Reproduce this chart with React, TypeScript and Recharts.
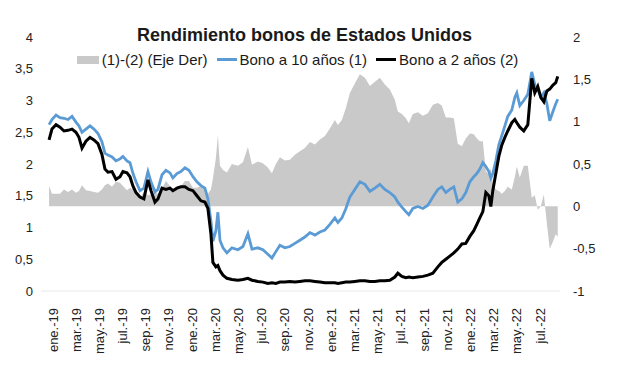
import React from "react";
import { ComposedChart, Area, Line, XAxis, YAxis } from "recharts";

// meses desde ene.-19 (0 = ene.-19)
const meses = [
  -0.34, -0.09, 0.26, 0.6, 0.95, 1.29, 1.64, 1.98, 2.24, 2.5, 2.84, 3.19, 3.53, 3.88, 4.22, 4.48, 4.74,
  5.09, 5.43, 5.78, 6.03, 6.38, 6.64, 6.9, 7.16, 7.5, 7.84, 8.19, 8.45, 8.79, 9.05, 9.4, 9.74, 10.09,
  10.34, 10.69, 11.03, 11.38, 11.72, 12.07, 12.41, 12.76, 13.1, 13.36, 13.62, 13.79, 14.05, 14.22,
  14.4, 14.66, 15.0, 15.43, 15.95, 16.38, 16.81, 17.16, 17.67, 18.1, 18.53, 18.88, 19.22, 19.57, 20.0,
  20.43, 20.86, 21.29, 21.72, 22.16, 22.59, 23.02, 23.45, 23.88, 24.31, 24.57, 24.91, 25.26, 25.6,
  26.03, 26.47, 26.9, 27.33, 27.76, 28.19, 28.62, 29.05, 29.48, 29.74, 30.09, 30.43, 30.69, 31.03,
  31.47, 31.9, 32.33, 32.76, 33.19, 33.53, 33.88, 34.22, 34.57, 34.91, 35.26, 35.6, 35.95, 36.29,
  36.55, 36.81, 37.07, 37.33, 37.59, 37.76, 37.93, 38.19, 38.45, 38.71, 38.97, 39.22, 39.57, 39.83,
  40.0, 40.26, 40.6, 40.95, 41.29, 41.55, 41.81, 42.07, 42.33, 42.59, 42.84, 43.1, 43.36, 43.53,
];

const bono10 = [
  2.62, 2.7, 2.77, 2.73, 2.72, 2.7, 2.75, 2.66, 2.6, 2.5, 2.55, 2.6, 2.55, 2.48, 2.35, 2.17, 2.14,
  2.11, 2.05, 2.08, 2.12, 2.05, 2.02, 1.85, 1.72, 1.58, 1.62, 1.88, 1.72, 1.56, 1.6, 1.83, 1.9, 1.86,
  1.78, 1.85, 1.88, 1.94, 1.9, 1.8, 1.72, 1.66, 1.62, 1.45, 1.1, 0.78, 0.95, 1.24,
  0.8, 0.68, 0.6, 0.68, 0.65, 0.7, 0.9, 0.66, 0.68, 0.65, 0.58, 0.52, 0.62, 0.72, 0.68,
  0.7, 0.75, 0.8, 0.85, 0.92, 0.88, 0.93, 0.96, 1.05, 1.15, 1.08, 1.15, 1.3, 1.48,
  1.6, 1.72, 1.68, 1.57, 1.62, 1.68, 1.6, 1.55, 1.48, 1.4, 1.32, 1.25, 1.2, 1.3,
  1.33, 1.3, 1.35, 1.48, 1.6, 1.64, 1.55, 1.6, 1.64, 1.4, 1.45, 1.55, 1.72, 1.8,
  1.85, 1.92, 2.02, 1.96, 1.88, 1.78, 1.85, 2.05, 2.3, 2.45, 2.6, 2.75, 2.85, 3.05,
  3.12, 2.92, 3.0, 3.1, 3.45, 3.25, 3.18, 3.05, 3.12, 2.95, 2.68, 2.82, 2.95, 3.02,
];

const bono2 = [
  2.38, 2.55, 2.62, 2.58, 2.52, 2.53, 2.55, 2.5, 2.42, 2.25, 2.36, 2.42, 2.38, 2.32, 2.15, 1.92, 1.87,
  1.88, 1.76, 1.8, 1.88, 1.86, 1.8, 1.65, 1.55, 1.48, 1.45, 1.75, 1.58, 1.4, 1.45, 1.62, 1.6, 1.62,
  1.58, 1.62, 1.64, 1.64, 1.6, 1.58, 1.5, 1.42, 1.4, 1.3, 0.9, 0.45, 0.38, 0.4,
  0.32, 0.25, 0.2, 0.18, 0.17, 0.18, 0.2, 0.17, 0.15, 0.14, 0.12, 0.13, 0.12, 0.14, 0.14,
  0.15, 0.14, 0.15, 0.16, 0.16, 0.15, 0.14, 0.13, 0.13, 0.13, 0.12, 0.13, 0.14, 0.14,
  0.15, 0.16, 0.16, 0.15, 0.15, 0.16, 0.16, 0.17, 0.22, 0.28, 0.23, 0.21, 0.22, 0.21,
  0.22, 0.23, 0.25, 0.28, 0.38, 0.45, 0.5, 0.55, 0.6, 0.66, 0.74, 0.75, 0.86, 0.95,
  1.05, 1.15, 1.25, 1.55, 1.5, 1.33, 1.58, 1.85, 2.12, 2.3, 2.42, 2.52, 2.65, 2.7,
  2.65, 2.58, 2.52, 2.62, 3.35, 3.12, 3.22, 3.05, 2.98, 3.15, 3.18, 3.24, 3.28, 3.38,
];

const etiquetasX = [
  "ene.-19", "mar.-19", "may.-19", "jul.-19", "sep.-19", "nov.-19",
  "ene.-20", "mar.-20", "may.-20", "jul.-20", "sep.-20", "nov.-20",
  "ene.-21", "mar.-21", "may.-21", "jul.-21", "sep.-21", "nov.-21",
  "ene.-22", "mar.-22", "may.-22", "jul.-22",
];
const ticksX = etiquetasX.map((_, i) => i * 2);
const ticksIzq = [0, 0.5, 1, 1.5, 2, 2.5, 3, 3.5, 4];
const ticksDer = [-1, -0.5, 0, 0.5, 1, 1.5, 2];

const data = meses.map((t, i) => ({
  t,
  b10: bono10[i],
  b2: bono2[i],
  spread: Math.round((bono10[i] - bono2[i]) * 100) / 100,
}));

const FONT = "'Liberation Sans', Arial, Helvetica, sans-serif";
const fmt = (v: number) => String(v).replace(".", ",");

const XTick = (props: any) => {
  const { x, y, payload } = props;
  const label = etiquetasX[Math.round(payload.value / 2)];
  return (
    <text
      x={x}
      y={y + 9}
      transform={`rotate(-90, ${x}, ${y + 9})`}
      textAnchor="end"
      dy="0.35em"
      fontSize={13}
      fontFamily={FONT}
      fill="#222"
    >
      {label}
    </text>
  );
};

export default function App() {
  return (
    <div
      style={{
        position: "absolute",
        left: 0,
        top: 0,
        width: 617,
        height: 373,
        background: "#fff",
        fontFamily: FONT,
      }}
    >
      <ComposedChart
        width={617}
        height={373}
        data={data}
        margin={{ top: 37, right: 0, bottom: 0, left: 0 }}
      >
        <XAxis
          dataKey="t"
          type="number"
          domain={[-1.035, 43.725]}
          ticks={ticksX}
          interval={0}
          height={82}
          tickLine={false}
          axisLine={{ stroke: "#e8e8e8" }}
          tick={<XTick />}
        />
        <YAxis
          yAxisId="izq"
          domain={[0, 4]}
          ticks={ticksIzq}
          width={41}
          axisLine={false}
          tickLine={false}
          tickFormatter={fmt}
          tick={{ fontSize: 13, fill: "#222", fontFamily: FONT }}
        />
        <YAxis
          yAxisId="der"
          orientation="right"
          domain={[-1, 2]}
          ticks={ticksDer}
          width={57}
          axisLine={false}
          tickLine={false}
          tickMargin={7}
          tickFormatter={fmt}
          tick={{ fontSize: 13, fill: "#222", fontFamily: FONT, textAnchor: "start" }}
        />
        <Area
          yAxisId="der"
          dataKey="spread"
          type="linear"
          baseValue={0}
          stroke="none"
          fill="#c9c9c9"
          fillOpacity={1}
          isAnimationActive={false}
        />
        <Line
          yAxisId="izq"
          dataKey="b10"
          type="linear"
          stroke="#5b9bd5"
          strokeWidth={2.8}
          dot={false}
          isAnimationActive={false}
        />
        <Line
          yAxisId="izq"
          dataKey="b2"
          type="linear"
          stroke="#000000"
          strokeWidth={3}
          dot={false}
          isAnimationActive={false}
        />
      </ComposedChart>

      <div
        style={{
          position: "absolute",
          left: 0,
          top: 25,
          width: 609,
          textAlign: "center",
          fontSize: 18,
          fontWeight: "bold",
          color: "#1a1a1a",
        }}
      >
        Rendimiento bonos de Estados Unidos
      </div>

      <div
        style={{
          position: "absolute",
          left: 0,
          top: 51,
          width: 595,
          display: "flex",
          justifyContent: "center",
          alignItems: "center",
          fontSize: 15,
          color: "#1a1a1a",
          whiteSpace: "nowrap",
        }}
      >
        <span style={{ display: "inline-block", width: 22, height: 8, background: "#c9c9c9", marginRight: 3 }} />
        <span>(1)-(2) (Eje Der)</span>
        <span style={{ display: "inline-block", width: 20, height: 2.5, background: "#5b9bd5", margin: "0 3px 0 9px" }} />
        <span>Bono a 10 años (1)</span>
        <span style={{ display: "inline-block", width: 20, height: 2.5, background: "#000", margin: "0 3px 0 9px" }} />
        <span>Bono a 2 años (2)</span>
      </div>
    </div>
  );
}
